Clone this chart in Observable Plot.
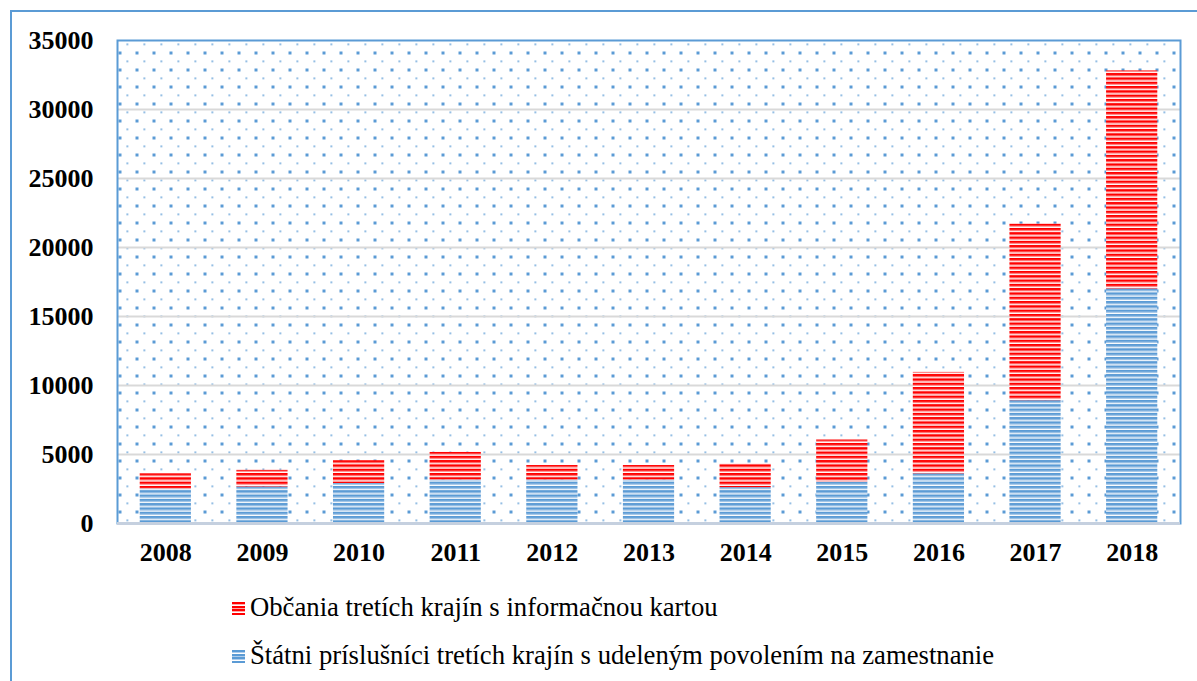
<!DOCTYPE html>
<html>
<head>
<meta charset="utf-8">
<script src="https://cdn.jsdelivr.net/npm/d3@7"></script>
<script src="https://cdn.jsdelivr.net/npm/@observablehq/plot@0.6"></script>
<style>
  html, body { margin: 0; padding: 0; background: #fff; }
  #wrap { position: relative; width: 1197px; height: 681px; overflow: hidden; font-family: "Liberation Serif", "Times New Roman", serif; }
  #border { position: absolute; left: 10px; top: 10px; width: 1300px; height: 800px; border-left: 2px solid #5b9bd5; border-top: 2px solid #5b9bd5; box-sizing: border-box; }
  #chart { position: absolute; left: 0; top: 0; }
  #chart svg text { font-family: "Liberation Serif", "Times New Roman", serif; }
  .leg { position: absolute; left: 232px; font-size: 26.7px; line-height: 30px; color: #000; display: flex; align-items: center; white-space: nowrap; }
  .sw { width: 13px; height: 13px; margin-right: 5px; margin-top: 2px; }
</style>
</head>
<body>
<div id="wrap">
  <div id="border"></div>
  <div id="chart"></div>
  <div id="legend"></div>
</div>
<script>
const years = ["2008","2009","2010","2011","2012","2013","2014","2015","2016","2017","2018"];
const permitValues = [2500, 2650, 2900, 3150, 3150, 3150, 2600, 3000, 3600, 8900, 17000];
const cardValues = [1100, 1200, 1650, 2000, 1050, 1050, 1700, 3050, 7350, 12800, 15800];
const seriesNames = [
  "Štátni príslušníci tretích krajín s udeleným povolením na zamestnanie",
  "Občania tretích krajín s informačnou kartou"
];
const yTicks = [0, 5000, 10000, 15000, 20000, 25000, 30000, 35000];
const seriesFills = ["url(#stripeBlue)", "url(#stripeRed)"];

const data = years.flatMap((year, i) => [
  {year, series: seriesNames[0], value: permitValues[i]},
  {year, series: seriesNames[1], value: cardValues[i]}
]);

const chart = Plot.plot({
  width: 1197,
  height: 580,
  marginTop: 40,
  marginLeft: 117,
  marginRight: 17,
  marginBottom: 57,
  style: {fontFamily: "'Liberation Serif', 'Times New Roman', serif", fontSize: "26px", fontWeight: "bold", background: "transparent", color: "#000"},
  x: {domain: years, paddingInner: 0.47, paddingOuter: 0.235, round: false, label: null, tickSize: 0, tickPadding: 19},
  y: {domain: [0, 35000], ticks: yTicks, label: null, tickSize: 0, tickPadding: 24, tickFormat: d => String(d)},
  color: {domain: seriesNames, range: seriesFills},
  marks: [
    Plot.frame({fill: "url(#dots)"}),
    Plot.ruleY(yTicks.filter(t => t > 0 && t < 35000), {stroke: "#d9d9d9", strokeWidth: 2}),
    Plot.barY(data, {x: "year", y: "value", fill: "series"}),
    Plot.frame({stroke: "#5b9bd5", strokeWidth: 2}),
    Plot.ruleY([0], {stroke: "#c5d0df", strokeWidth: 3})
  ]
});

const svg = d3.select(chart);
const defs = svg.insert("defs", ":first-child");
const dots = defs.append("pattern").attr("id", "dots").attr("patternUnits", "userSpaceOnUse")
  .attr("width", 17).attr("height", 17).attr("x", -1).attr("y", 0);
dots.append("rect").attr("x", 0).attr("y", 0).attr("width", 3).attr("height", 3).attr("fill", "#5b9bd5");
dots.append("rect").attr("x", 8).attr("y", 9).attr("width", 1.6).attr("height", 1.6).attr("fill", "#5b9bd5");

function stripes(id, main, light) {
  const p = defs.append("pattern").attr("id", id).attr("patternUnits", "userSpaceOnUse")
    .attr("width", 8).attr("height", 4.3);
  p.append("rect").attr("width", 8).attr("height", 4.3).attr("fill", "#fff");
  p.append("rect").attr("y", 0).attr("width", 8).attr("height", 2.4).attr("fill", main);
  p.append("rect").attr("y", 2.4).attr("width", 8).attr("height", 1).attr("fill", light);
}
stripes("stripeRed", "#ff0000", "#ffa8a8");
stripes("stripeBlue", "#5b9bd5", "#b0cdeb");

document.getElementById("chart").appendChild(chart);

const legend = document.getElementById("legend");
const legendItems = [
  {name: seriesNames[1], bg: "repeating-linear-gradient(to bottom, #ff0000 0 2px, #ffa8a8 2px 3px, #fff 3px 3.6px)", top: 592},
  {name: seriesNames[0], bg: "repeating-linear-gradient(to bottom, #5b9bd5 0 2px, #b0cdeb 2px 3px, #fff 3px 3.6px)", top: 640}
];
legendItems.forEach(it => {
  const d = document.createElement("div");
  d.className = "leg";
  d.style.top = it.top + "px";
  const sw = document.createElement("span");
  sw.className = "sw";
  sw.style.background = it.bg;
  const t = document.createElement("span");
  t.textContent = it.name;
  d.appendChild(sw);
  d.appendChild(t);
  legend.appendChild(d);
});
</script>
</body>
</html>
